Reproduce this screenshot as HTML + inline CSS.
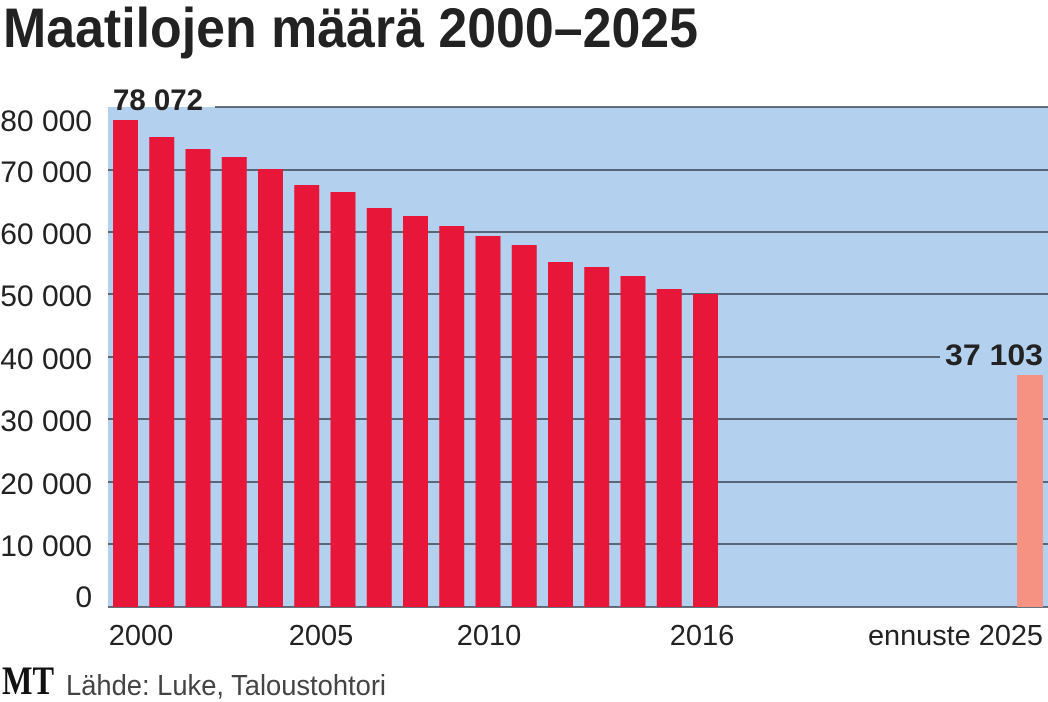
<!DOCTYPE html>
<html><head><meta charset="utf-8"><style>html,body{margin:0;padding:0;background:#fff}svg{display:block}</style></head>
<body>
<svg width="1048" height="702" viewBox="0 0 1048 702" xmlns="http://www.w3.org/2000/svg" font-family="'Liberation Sans', sans-serif">
<text x="3" y="47" font-size="56" font-weight="bold" fill="#222" textLength="695" lengthAdjust="spacingAndGlyphs">Maatilojen määrä 2000–2025</text>
<rect x="108" y="107" width="940" height="500" fill="#b3d1ee"/>
<g stroke="#3a4250" stroke-width="1.5">
<line x1="215" y1="107" x2="1048" y2="107"/>
<line x1="108" y1="170" x2="1048" y2="170"/>
<line x1="108" y1="232" x2="1048" y2="232"/>
<line x1="108" y1="294" x2="1048" y2="294"/>
<line x1="108" y1="357" x2="940" y2="357"/>
<line x1="108" y1="419" x2="1048" y2="419"/>
<line x1="108" y1="482" x2="1048" y2="482"/>
<line x1="108" y1="544" x2="1048" y2="544"/>
<line x1="108" y1="607" x2="1048" y2="607"/>
</g>
<g fill="#e8173a">
<rect x="113" y="120" width="25" height="487"/>
<rect x="149.25" y="137" width="25" height="470"/>
<rect x="185.5" y="149" width="25" height="458"/>
<rect x="221.75" y="157" width="25" height="450"/>
<rect x="258" y="169" width="25" height="438"/>
<rect x="294.25" y="185" width="25" height="422"/>
<rect x="330.5" y="192" width="25" height="415"/>
<rect x="366.75" y="208" width="25" height="399"/>
<rect x="403" y="216" width="25" height="391"/>
<rect x="439.25" y="226" width="25" height="381"/>
<rect x="475.5" y="236" width="25" height="371"/>
<rect x="511.75" y="245" width="25" height="362"/>
<rect x="548" y="262" width="25" height="345"/>
<rect x="584.25" y="267" width="25" height="340"/>
<rect x="620.5" y="276" width="25" height="331"/>
<rect x="656.75" y="289" width="25" height="318"/>
<rect x="693" y="294" width="25" height="313"/>
</g>
<rect x="1017" y="375" width="26" height="232" fill="#f59282"/>
<g font-weight="bold" font-size="30" fill="#222">
<text x="113" y="110" textLength="90" lengthAdjust="spacingAndGlyphs">78 072</text>
<text x="1043" y="365" text-anchor="end" textLength="98" lengthAdjust="spacingAndGlyphs">37 103</text>
</g>
<g font-size="30" fill="#222" text-anchor="end">
<text x="92" y="131">80 000</text>
<text x="92" y="182">70 000</text>
<text x="92" y="244">60 000</text>
<text x="92" y="306">50 000</text>
<text x="92" y="369">40 000</text>
<text x="92" y="431">30 000</text>
<text x="92" y="494">20 000</text>
<text x="92" y="556">10 000</text>
<text x="92" y="607">0</text>
</g>
<g font-size="29" fill="#222" text-anchor="middle">
<text x="141" y="645">2000</text>
<text x="321" y="645">2005</text>
<text x="489" y="645">2010</text>
<text x="702" y="645">2016</text>
<text x="1043" y="645" text-anchor="end" textLength="175" lengthAdjust="spacingAndGlyphs">ennuste 2025</text>
</g>
<text x="2" y="694" font-family="'Liberation Serif', serif" font-weight="bold" font-size="40" fill="#111" textLength="52" lengthAdjust="spacingAndGlyphs">MT</text>
<text x="66" y="695" font-size="29" fill="#444" textLength="320" lengthAdjust="spacingAndGlyphs">Lähde: Luke, Taloustohtori</text>
</svg>
</body></html>
